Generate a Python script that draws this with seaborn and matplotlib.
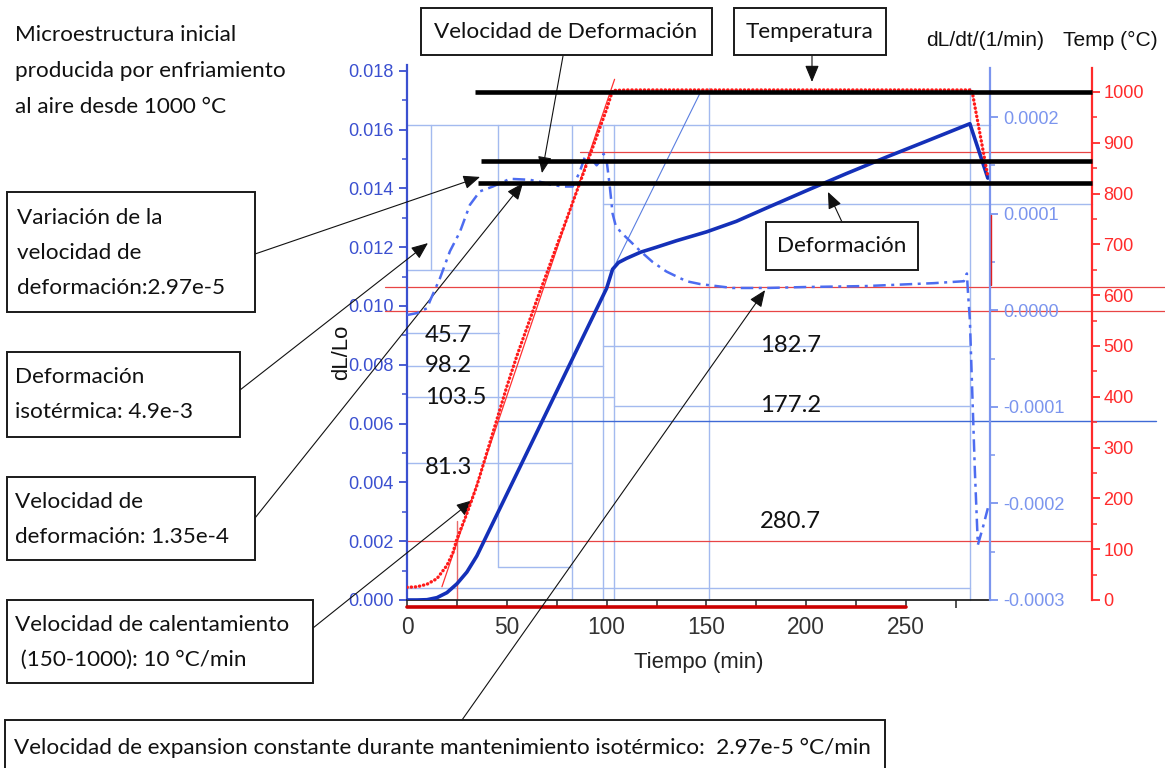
import matplotlib
matplotlib.use("Agg")
import matplotlib.pyplot as plt
from matplotlib import font_manager
from matplotlib.patches import Rectangle
from matplotlib.ticker import FixedLocator, FixedFormatter
import seaborn as sns
import pandas as pd

# ---------------- data ----------------
time_dl = [0, 5, 10, 15, 20, 25, 30, 35, 40, 45, 50, 55, 60, 65, 70, 75, 80, 85, 90, 95,
           100, 103, 106, 110, 117, 125, 135, 150, 165, 180, 200, 220, 240, 260, 282, 291]
dl_lo = [0, 0, 0.00001, 0.00008, 0.00025, 0.00055, 0.00095, 0.0015, 0.0022, 0.0029,
         0.0036, 0.0043, 0.0050, 0.0057, 0.0064, 0.0071, 0.0078, 0.0085, 0.0092, 0.0099,
         0.0106, 0.01125, 0.01148, 0.01162, 0.01183, 0.0120, 0.01222, 0.01252, 0.01288, 0.01333,
         0.01392, 0.0145, 0.01506, 0.0156, 0.0162, 0.01435]

time_rate = [0, 5, 10, 12, 16.5, 21.5, 26.5, 31.5, 36.5, 43, 51.5, 61.5, 66.5, 72, 78, 83,
             86.5, 89, 91, 93, 95, 97, 98.5, 100, 101.5, 103, 104.5, 107, 112, 117, 123, 130,
             140, 147, 163, 180, 200, 230, 264, 279, 280.5, 281, 282, 284.5, 286, 288.5, 291]
dl_dt = [-0.000005, -0.000003, 0.000002, 0.000012, 0.000033, 0.000061, 0.000081, 0.000109,
         0.000123, 0.000128, 0.000136, 0.000135, 0.000133, 0.00013, 0.000128, 0.000128,
         0.000143, 0.000158, 0.000162, 0.000155, 0.00015, 0.000155, 0.000162, 0.000155,
         0.00013, 0.0001, 0.000088, 0.000081, 0.000071, 0.000061, 0.00005, 0.00004,
         0.00003, 0.000027, 0.000023, 0.000023, 0.000024, 0.000025, 0.000028, 0.00003,
         0.000038, 0.00002, -0.00001, -0.000166, -0.000243, -0.000225, -0.000205]

time_temp = [0, 5, 10, 15, 20, 23, 25, 30, 35, 40, 45, 50, 55, 60, 65, 70, 75, 80, 85, 90,
             95, 100, 103, 110, 150, 200, 250, 283, 291]
temp = [25, 26, 31, 42, 68, 93, 120, 170, 225, 290, 355, 420, 480, 535, 590, 643, 697, 750,
        804, 858, 912, 966, 1003, 1004, 1004, 1004, 1004, 1004, 834]

x_ticks = [0, 50, 100, 150, 200, 250]
x_minor = [25, 75, 125, 175, 225, 275]
dl_ticks = [0, 0.002, 0.004, 0.006, 0.008, 0.010, 0.012, 0.014, 0.016, 0.018]
dl_labels = ["0.000", "0.002", "0.004", "0.006", "0.008", "0.010", "0.012", "0.014", "0.016", "0.018"]
rate_ticks = [-0.0003, -0.0002, -0.0001, 0.0, 0.0001, 0.0002]
rate_labels = ["-0.0003", "-0.0002", "-0.0001", "0.0000", "0.0001", "0.0002"]
temp_ticks = [0, 100, 200, 300, 400, 500, 600, 700, 800, 900, 1000]

# cursor lines of the analysis software (time, dL/Lo)
cur_v_t = [12.0, 45.6, 82.7, 98.2, 103.7, 151.3, 282.0]
cur_v_lo = [0.01122, 0.00112, 0, 0, 0, 0, 0]
cur_v_hi = [0.01616, 0.01616, 0.01616, 0.01616, 0.01616, 0.01741, 0.01741]
cur_h_v = [0.01616, 0.01122, 0.01347, 0.00909, 0.00796, 0.00690, 0.00466, 0.00112, 0.00041, 0.00864, 0.00660]
cur_h_t0 = [0, 0, 98.2, 0, 0, 0, 0, 45.6, 0, 98.2, 103.7]
cur_h_t1 = [292, 103.7, 343, 46.1, 98.2, 103.7, 82.7, 82.7, 282, 282, 282]
red_h_v = [0.01524, 0.01065, 0.00983, 0.00201]
red_h_t0 = [86.7, -11, -11, 0]
red_h_t1 = [343, 380, 380, 343]
black_h_temp = [1000, 864, 821]
black_h_t0 = [34.1, 37.1, 35.6]
black_h_t1 = [343, 343, 343]

cursor_left = ["45.7", "98.2", "103.5", "81.3"]
cursor_right = ["182.7", "177.2", "280.7"]

# ---------------- style ----------------
sns.set_theme(style="white")
names = {f.name for f in font_manager.fontManager.ttflist}
narrow = "Liberation Sans Narrow" in names
TXT_FONT = "Liberation Sans Narrow" if narrow else "Lato"
AX_FONT = "Liberation Sans Narrow" if narrow else "Liberation Sans"
kt = 1.0 if narrow else 0.83
ka = 1.0 if narrow else 0.84
plt.rcParams["font.family"] = [AX_FONT, "DejaVu Sans"]
plt.rcParams["axes.unicode_minus"] = False

W, H = 1165, 768
L, R, B, T = 407, 990, 600, 68
fig = plt.figure(figsize=(W / 100, H / 100), dpi=100, facecolor="white")
ax = fig.add_axes([L / W, 1 - B / H, (R - L) / W, (B - T) / H])
ax_rate = ax.twinx()
ax_temp = ax.twinx()

px_dl = 29400.0
px_rate = 966000.0
px_temp = 0.508
ax.set_xlim(0, (R - L) / 1.996)
ax.set_ylim(0, (B - T) / px_dl)
ax_rate.set_ylim(-0.0003, -0.0003 + (B - T) / px_rate)
ax_temp.set_ylim(0, (B - T) / px_temp)

BLUE_AX = "#3b50d0"
BLUE_IN = "#7b95ee"
RED = "#ff2b2b"
LIGHT = "#a3baef"

# cursor lines
for t, lo, hi in zip(cur_v_t, cur_v_lo, cur_v_hi):
    ax.plot([t, t], [lo, hi], color=LIGHT, lw=1.0, zorder=1, clip_on=False)
for v, t0, t1 in zip(cur_h_v, cur_h_t0, cur_h_t1):
    ax.plot([t0, t1], [v, v], color=LIGHT, lw=1.0, zorder=1, clip_on=False)
ax.plot([45.6, 375], [0.00609, 0.00609], color="#3f6ad6", lw=1.0, zorder=1, clip_on=False)
for v, t0, t1 in zip(red_h_v, red_h_t0, red_h_t1):
    ax.plot([t0, t1], [v, v], color="#e84545", lw=0.9, zorder=1, clip_on=False)
ax.plot([25, 25], [0, 0.0027], color="#e86a6a", lw=1.0, zorder=1)
ax.plot([103.2, 146.8], [0.01125, 0.01724], color="#5a7ee0", lw=0.8, zorder=1)
ax.plot([0, 250], [-7 / px_dl, -7 / px_dl], color="#cc0000", lw=2.6, clip_on=False, zorder=5)

# curves
df_dl = pd.DataFrame({"t": time_dl, "v": dl_lo})
df_rate = pd.DataFrame({"t": time_rate, "v": dl_dt})
df_temp = pd.DataFrame({"t": time_temp, "v": temp})
sns.lineplot(data=df_dl, x="t", y="v", ax=ax, color="#1430b8", lw=2.6, zorder=4)
sns.lineplot(data=df_rate, x="t", y="v", ax=ax_rate, color="#4d6cf0", lw=1.8,
             linestyle=(0, (5, 2.2, 1.2, 2.2)), zorder=4)
sns.lineplot(data=df_temp, x="t", y="v", ax=ax_temp, color="#ff1a1a", lw=2.4,
             linestyle=(0, (0.1, 1.15)), dash_capstyle="round", zorder=4)
ax_temp.plot([17.5, 104], [26, 1025], color="#ff3030", lw=0.9, zorder=3)
ax_temp.plot([292.5, 292.5], [620, 758], color="#e02020", lw=1.0, clip_on=False)

# black reference lines
for tv, t0, t1 in zip(black_h_temp, black_h_t0, black_h_t1):
    ax_temp.plot([t0, t1], [tv, tv], color="black", lw=3.3, clip_on=False, zorder=6,
                 solid_capstyle="butt")

# ---------------- axes styling ----------------
for a in (ax, ax_rate, ax_temp):
    a.set_xlabel("")
    a.set_ylabel("")
    a.grid(False)
ax.spines["top"].set_visible(False)
ax.spines["right"].set_visible(False)
ax.spines["left"].set_color(BLUE_AX)
ax.spines["left"].set_linewidth(1.6)
ax.spines["left"].set_bounds(0, 0.0182)
ax.spines["bottom"].set_color("#222222")
ax.spines["bottom"].set_linewidth(1.3)
for s in ("left", "top", "bottom"):
    ax_rate.spines[s].set_visible(False)
    ax_temp.spines[s].set_visible(False)
ax_rate.spines["right"].set_color(BLUE_IN)
ax_rate.spines["right"].set_linewidth(1.6)
ax_temp.spines["right"].set_position(("axes", (1092 - L) / (R - L)))
ax_temp.spines["right"].set_color(RED)
ax_temp.spines["right"].set_linewidth(1.6)

ax.xaxis.set_major_locator(FixedLocator(x_ticks))
ax.xaxis.set_minor_locator(FixedLocator(x_minor))
ax.tick_params(axis="x", which="both", direction="out", length=5.8, width=1.1,
               colors="#222222", pad=6, labelsize=19.5 * ka, bottom=True)
ax.tick_params(axis="x", labelcolor="#333333")
ax.yaxis.set_major_locator(FixedLocator(dl_ticks))
ax.yaxis.set_major_formatter(FixedFormatter(dl_labels))
ax.yaxis.set_minor_locator(FixedLocator([0.001 + 0.002 * i for i in range(9)]))
ax.tick_params(axis="y", which="major", direction="out", length=5.8, width=1.3,
               color=BLUE_AX, labelcolor=BLUE_AX, pad=3.5, labelsize=15.5 * ka, left=True)
ax.tick_params(axis="y", which="minor", direction="out", length=3.5, width=1.1,
               color=BLUE_AX, left=True)

ax_rate.yaxis.set_major_locator(FixedLocator(rate_ticks))
ax_rate.yaxis.set_major_formatter(FixedFormatter(rate_labels))
ax_rate.yaxis.set_minor_locator(FixedLocator([-0.00025, -0.00015, -0.00005, 0.00005, 0.00015]))
ax_rate.tick_params(axis="y", which="major", direction="out", length=5.8, width=1.3,
                    color=BLUE_IN, labelcolor=BLUE_IN, pad=3.5, labelsize=15.5 * ka, right=True)
ax_rate.tick_params(axis="y", which="minor", direction="out", length=3.5, width=1.1,
                    color=BLUE_IN, right=True)

ax_temp.yaxis.set_major_locator(FixedLocator(temp_ticks))
ax_temp.yaxis.set_minor_locator(FixedLocator([50 + 100 * i for i in range(10)]))
ax_temp.tick_params(axis="y", which="major", direction="out", length=5.8, width=1.3,
                    color=RED, labelcolor=RED, pad=2.5, labelsize=15.5 * ka, right=True)
ax_temp.tick_params(axis="y", which="minor", direction="out", length=3.5, width=1.1,
                    color=RED, right=True)

ax.set_xlabel("Tiempo (min)", fontsize=19 * ka, color="#222222")
ax.xaxis.set_label_coords(0.5, (B - 652) / (B - T))
ax.set_ylabel("dL/Lo", fontsize=19 * ka, color="#111111")
ax.yaxis.set_label_coords((352 - L) / (R - L), (B - 352) / (B - T))


def fx(x):
    return x / W


def fy(y):
    return 1 - y / H


fig.text(fx(985), fy(40), "dL/dt/(1/min)", fontsize=18 * ka, color="#111111",
         ha="center", va="center")
fig.text(fx(1110), fy(40), "Temp (°C)", fontsize=18 * ka, color="#111111",
         ha="center", va="center")

# ---------------- annotation text and boxes ----------------
TFS = 19.5 * kt
NFS = 19.5 * (1.0 if narrow else 0.88)


def txt(x, y, s, ha="left", size=None):
    fig.text(fx(x), fy(y), s, fontsize=size or TFS, family=[TXT_FONT, "DejaVu Sans"],
             color="#111111", ha=ha, va="center")


def box(x0, y0, x1, y1):
    fig.add_artist(Rectangle((fx(x0), fy(y1)), (x1 - x0) / W, (y1 - y0) / H,
                             transform=fig.transFigure, fill=False, ec="#1a1a1a",
                             lw=1.4, zorder=10))


txt(15, 35, "Microestructura inicial")
txt(15, 71, "producida por enfriamiento")
txt(15, 107, "al aire desde 1000 °C")

box(421, 8, 712, 55)
txt(566, 32, "Velocidad de Deformación", ha="center")
box(734, 8, 886, 55)
txt(810, 32, "Temperatura", ha="center")

box(7, 192, 255, 312)
txt(17, 218, "Variación de la")
txt(17, 253, "velocidad de")
txt(17, 288, "deformación:2.97e-5")

box(7, 352, 240, 437)
txt(15, 377, "Deformación")
txt(15, 412, "isotérmica: 4.9e-3")

box(7, 477, 255, 560)
txt(15, 502, "Velocidad de")
txt(15, 537, "deformación: 1.35e-4")

box(7, 600, 313, 683)
txt(15, 625, "Velocidad de calentamiento")
txt(15, 660, " (150-1000): 10 °C/min")

box(5, 720, 885, 775)
txt(14, 748, "Velocidad de expansion constante durante mantenimiento isotérmico:  2.97e-5 °C/min")

box(766, 222, 918, 270)
txt(842, 246, "Deformación", ha="center")

for s, y in zip(cursor_left, [335, 366, 397, 468]):
    txt(425, y, s, size=NFS)
for s, y in zip(cursor_right, [345, 405, 522]):
    txt(760, y, s, size=NFS)

# ---------------- arrows ----------------
arrows = [
    ((563, 56), (67.6, 0.01452)),
    ((812, 56), (202.9, 0.01762)),
    ((255, 254), (36.6, 0.01439)),
    ((240, 390), (10.5, 0.01214)),
    ((255, 518), (58.1, 0.01418)),
    ((313, 628), (33.1, 0.0034)),
    ((462, 720), (179.4, 0.01054)),
    ((842, 222), (210.9, 0.01388)),
]
for (sx, sy), (tx, tv) in arrows:
    ax.annotate("", xy=(tx, tv), xycoords="data", xytext=(sx, H - sy),
                textcoords="figure pixels",
                arrowprops=dict(arrowstyle="-|>,head_length=0.6,head_width=0.25",
                                mutation_scale=17, color="#111111", lw=0.8,
                                shrinkA=0, shrinkB=0),
                annotation_clip=False, zorder=8)

fig.savefig("out.png", dpi=100, facecolor="white")
